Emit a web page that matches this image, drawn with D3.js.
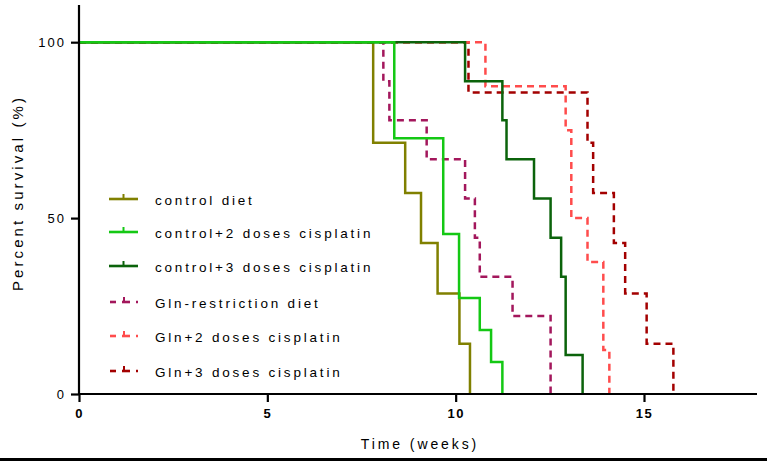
<!DOCTYPE html>
<html><head><meta charset="utf-8">
<script src="https://cdn.jsdelivr.net/npm/d3@7"></script>
<style>
html,body{margin:0;padding:0;background:#fff;}
svg{display:block;font-family:"Liberation Sans",Arial,sans-serif;}
</style></head>
<body><svg id="c" width="767" height="461"></svg>
<script>
// ---- data (time in weeks, survival in %) ----
const controlT = [0, 7.81, 8.66, 9.08, 9.52, 10.1, 10.38];
const controlS = [100, 71.4, 57.1, 42.9, 28.6, 14.3, 0];
const c2T = [0, 8.37, 9.67, 10.09, 10.64, 10.94, 11.24];
const c2S = [100, 72.7, 45.5, 27.3, 18.2, 9.1, 0];
const c3T = [0, 10.25, 11.24, 11.35, 12.08, 12.52, 12.8, 12.92, 13.37];
const c3S = [100, 88.9, 77.8, 66.7, 55.6, 44.4, 33.3, 11.1, 0];
const glnT = [0, 8.08, 8.24, 9.23, 10.25, 10.51, 10.64, 11.51, 12.52];
const glnS = [100, 88.9, 77.8, 66.7, 55.6, 44.4, 33.3, 22.2, 0];
const g2T = [0, 10.79, 12.92, 13.07, 13.5, 13.92, 14.08];
const g2S = [100, 87.5, 75, 50, 37.5, 12.5, 0];
const g3T = [0, 10.34, 13.5, 13.65, 14.2, 14.5, 15.07, 15.78];
const g3S = [100, 85.7, 71.4, 57.1, 42.9, 28.6, 14.3, 0];

const seriesNames = ["control diet","control+2 doses cisplatin","control+3 doses cisplatin",
  "Gln-restriction diet","Gln+2 doses cisplatin","Gln+3 doses cisplatin"];
const seriesColors = ["#808000","#14c814","#0b630b","#a3175c","#ff4c4c","#a30000"];
const seriesDashed = [false,false,false,true,true,true];
const seriesT = [controlT,c2T,c3T,glnT,g2T,g3T];
const seriesS = [controlS,c2S,c3S,glnS,g2S,g3S];
const drawOrder = [5,4,3,0,2,1];

const xTicks = [0,5,10,15];
const yTicks = [0,50,100];

// ---- layout ----
const svg = d3.select("#c");
const x = d3.scaleLinear().domain([0,18]).range([79,757]);
const y = d3.scaleLinear().domain([0,110]).range([394,7]);

const line = d3.line().x(d=>x(d[0])).y(d=>y(d[1])).curve(d3.curveStepAfter);

drawOrder.forEach(i=>{
  const pts = seriesT[i].map((t,k)=>[t,seriesS[i][k]]);
  svg.append("path").attr("d",line(pts)).attr("fill","none")
    .attr("stroke",seriesColors[i]).attr("stroke-width",2.5)
    .attr("stroke-dasharray",seriesDashed[i]?"7,5":null);
});

// axes
const xAxis = svg.append("g").attr("transform","translate(0,394)")
  .call(d3.axisBottom(x).tickValues(xTicks).tickSize(8).tickPadding(7).tickFormat(d3.format("d")));
xAxis.select(".domain").attr("stroke","#000").attr("stroke-width",2.2).attr("d","M79,0H757");
xAxis.selectAll(".tick line").attr("stroke","#000").attr("stroke-width",2.2);
xAxis.selectAll(".tick text").attr("font-size",13).attr("font-weight","bold")
  .attr("font-family","Liberation Sans, Arial, sans-serif").attr("fill","#000").attr("letter-spacing",1.5);

const yAxis = svg.append("g").attr("transform","translate(79,0)")
  .call(d3.axisLeft(y).tickValues(yTicks).tickSize(8).tickPadding(5).tickFormat(d3.format("d")));
yAxis.select(".domain").attr("stroke","#000").attr("stroke-width",2.2).attr("d","M0,5V394");
yAxis.selectAll(".tick line").attr("stroke","#000").attr("stroke-width",2.2);
yAxis.selectAll(".tick text").attr("font-size",13)
  .attr("font-family","Liberation Sans, Arial, sans-serif").attr("fill","#000").attr("letter-spacing",2);

// axis titles
svg.append("text").attr("x",420).attr("y",449).attr("text-anchor","middle")
  .attr("font-size",14).attr("letter-spacing",2.9).text("Time (weeks)");
svg.append("text").attr("transform","translate(23,193) rotate(-90)").attr("text-anchor","middle")
  .attr("font-size",15).attr("letter-spacing",3.1).text("Percent survival (%)");

// legend
const legY = [199,232,266,302,336,371];
seriesNames.forEach((n,i)=>{
  const g = svg.append("g").attr("transform",`translate(0,${legY[i]})`);
  const c = seriesColors[i];
  if(!seriesDashed[i]){
    g.append("line").attr("x1",109).attr("x2",138).attr("y1",0).attr("y2",0)
      .attr("stroke",c).attr("stroke-width",2.6);
    g.append("line").attr("x1",123.5).attr("x2",123.5).attr("y1",0).attr("y2",-5)
      .attr("stroke",c).attr("stroke-width",2);
  } else {
    g.append("line").attr("x1",110).attr("x2",116).attr("y1",0).attr("y2",0)
      .attr("stroke",c).attr("stroke-width",2.6);
    g.append("line").attr("x1",122).attr("x2",130).attr("y1",0).attr("y2",0)
      .attr("stroke",c).attr("stroke-width",2.6);
    g.append("line").attr("x1",124).attr("x2",124).attr("y1",0).attr("y2",-5)
      .attr("stroke",c).attr("stroke-width",2);
    g.append("line").attr("x1",136).attr("x2",138).attr("y1",0).attr("y2",0)
      .attr("stroke",c).attr("stroke-width",2.6);
  }
  g.append("text").attr("x",155).attr("y",6).attr("font-size",13.5)
    .attr("letter-spacing",2.8).attr("fill","#000").text(n);
});

// bottom border line
svg.append("line").attr("x1",0).attr("x2",767).attr("y1",459.5).attr("y2",459.5)
  .attr("stroke","#000").attr("stroke-width",3);
</script></body></html>
